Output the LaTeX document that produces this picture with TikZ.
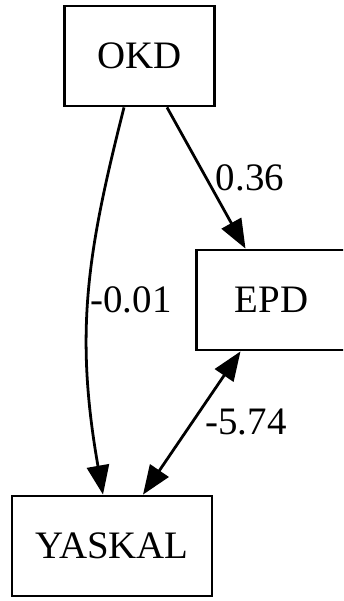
\documentclass[tikz,border=0pt]{standalone}
\usepackage{fontspec}
\setmainfont{Liberation Serif}
\usetikzlibrary{arrows.meta,calc}
\begin{document}
\begin{tikzpicture}[x=0.36pt,y=-0.36pt,
  box/.style={draw,line width=1pt,inner sep=0pt,minimum height=36pt,font=\fontsize{14}{16}\selectfont},
  edge/.style={line width=1pt,-{Triangle[length=10.5pt,width=8pt]}},
  biedge/.style={line width=1pt,{Triangle[length=10.5pt,width=8pt]}-{Triangle[length=10.5pt,width=8pt]}},
  lbl/.style={font=\fontsize{14}{16}\selectfont,inner sep=0pt}]
\useasboundingbox (0,0) rectangle (343,601);
\clip (0,0) rectangle (343,601);
\node[box,minimum width=54pt] (okd) at (139.5,56) {OKD};
\node[box,minimum width=54pt] (epd) at (271.5,300) {EPD};
\node[box,minimum width=72pt] (yaskal) at (112,546) {YASKAL};
\coordinate (a1) at ($(okd.south)+(27.5,0)$);
\coordinate (a2) at ($(epd.north)+(-26,0)$);
\draw[edge] (a1) -- (a2);
\coordinate (b1) at ($(okd.south)+(-15.5,0)$);
\coordinate (b2) at ($(yaskal.north)+(-9,0)$);
\draw[edge] (b1) .. controls (88,250) and (74,330) .. (b2);
\coordinate (c1) at ($(epd.south)+(-31,0)$);
\coordinate (c2) at ($(yaskal.north)+(31,0)$);
\draw[biedge] (c1) -- (c2);
\node[lbl] (l1) at (250,178) {0.36};
\node[lbl] (l2) at (131,300) {-0.01};
\node[lbl] (l3) at (246,422) {-5.74};
\end{tikzpicture}
\end{document}
